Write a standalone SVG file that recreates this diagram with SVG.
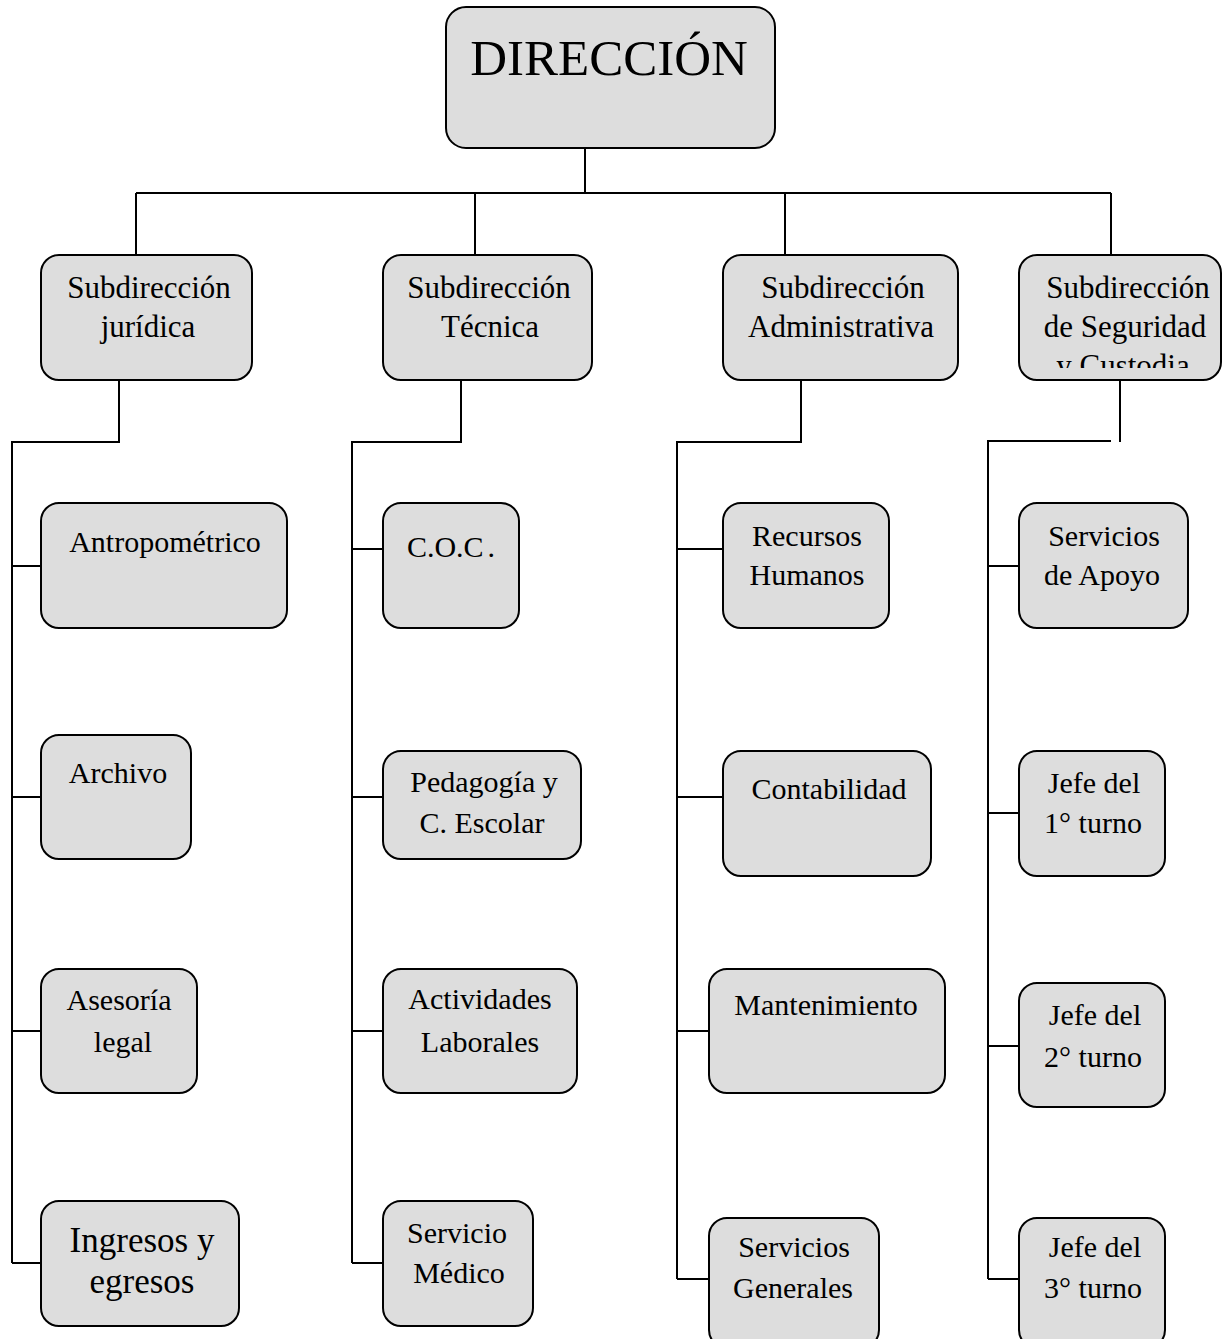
<svg xmlns="http://www.w3.org/2000/svg" width="1222" height="1339" viewBox="0 0 1222 1339">
<style>
.box{fill:#dddddd;stroke:#000;stroke-width:2}
.ln{fill:none;stroke:#000;stroke-width:2}
text{font-family:"Liberation Serif","Times New Roman",serif;fill:#000;text-anchor:middle}
.t1{font-size:51px}
.t2{font-size:31px}
.t3{font-size:30px}
.t4{font-size:35px}
</style>
<defs>
<clipPath id="clipSeg"><rect x="1019" y="255" width="203" height="113"/></clipPath>
</defs>
<rect width="1222" height="1339" fill="#fff"/>
<g id="connectors">
<path class="ln" d="M585 148V193M136 193H1111M136 193V255M475 193V255M785 193V255M1111 193V255"/>
<path class="ln" d="M119 380V442H12V1263M12 566H41M12 797H41M12 1031H41M12 1263H41"/>
<path class="ln" d="M461 380V442H352V1263M352 549H383M352 797H383M352 1031H383M352 1263H383"/>
<path class="ln" d="M801 380V442H677V1279M677 549H723M677 797H723M677 1031H709M677 1279H709"/>
<path class="ln" d="M1120 380V442M1111 441H988V1279M988 566H1019M988 813H1019M988 1046H1019M988 1279H1019"/>
</g>
<g id="direccion"><rect class="box" x="446" y="7" width="329" height="141" rx="20"/><text class="t1" x="609" y="75">DIRECCIÓN</text></g>
<g id="sub-juridica"><rect class="box" x="41" y="255" width="211" height="125" rx="18"/><text class="t2" x="149" y="298">Subdirección</text><text class="t2" x="148" y="337">jurídica</text></g>
<g id="sub-tecnica"><rect class="box" x="383" y="255" width="209" height="125" rx="18"/><text class="t2" x="489" y="298">Subdirección</text><text class="t2" x="490" y="337">Técnica</text></g>
<g id="sub-admin"><rect class="box" x="723" y="255" width="235" height="125" rx="18"/><text class="t2" x="843" y="298">Subdirección</text><text class="t2" x="841" y="337">Administrativa</text></g>
<g id="sub-seguridad"><rect class="box" x="1019" y="255" width="202" height="125" rx="18"/><g clip-path="url(#clipSeg)"><text class="t2" x="1128" y="298">Subdirección</text><text class="t2" x="1125" y="337">de Seguridad</text><text class="t2" x="1123" y="376">y Custodia</text></g></g>
<g id="antropometrico"><rect class="box" x="41" y="503" width="246" height="125" rx="18"/><text class="t3" x="165" y="552">Antropométrico</text></g>
<g id="archivo"><rect class="box" x="41" y="735" width="150" height="124" rx="18"/><text class="t3" x="118" y="783">Archivo</text></g>
<g id="asesoria"><rect class="box" x="41" y="969" width="156" height="124" rx="18"/><text class="t3" x="119" y="1010">Asesoría</text><text class="t3" x="123" y="1052">legal</text></g>
<g id="ingresos"><rect class="box" x="41" y="1201" width="198" height="125" rx="18"/><text class="t4" x="142" y="1252">Ingresos y</text><text class="t4" x="142" y="1293">egresos</text></g>
<g id="coc"><rect class="box" x="383" y="503" width="136" height="125" rx="18"/><text class="t3" x="451" y="557">C.O.C<tspan dx="4">.</tspan></text></g>
<g id="pedagogia"><rect class="box" x="383" y="751" width="198" height="108" rx="18"/><text class="t3" x="484" y="792">Pedagogía y</text><text class="t3" x="482" y="833">C. Escolar</text></g>
<g id="actividades"><rect class="box" x="383" y="969" width="194" height="124" rx="18"/><text class="t3" x="480" y="1009">Actividades</text><text class="t3" x="480" y="1052">Laborales</text></g>
<g id="servicio-medico"><rect class="box" x="383" y="1201" width="150" height="125" rx="18"/><text class="t3" x="457" y="1243">Servicio</text><text class="t3" x="459" y="1283">Médico</text></g>
<g id="recursos"><rect class="box" x="723" y="503" width="166" height="125" rx="18"/><text class="t3" x="807" y="546">Recursos</text><text class="t3" x="807" y="585">Humanos</text></g>
<g id="contabilidad"><rect class="box" x="723" y="751" width="208" height="125" rx="18"/><text class="t3" x="829" y="799">Contabilidad</text></g>
<g id="mantenimiento"><rect class="box" x="709" y="969" width="236" height="124" rx="18"/><text class="t3" x="826" y="1015">Mantenimiento</text></g>
<g id="servicios-generales"><rect class="box" x="709" y="1218" width="170" height="130" rx="18"/><text class="t3" x="794" y="1257">Servicios</text><text class="t3" x="793" y="1298">Generales</text></g>
<g id="servicios-apoyo"><rect class="box" x="1019" y="503" width="169" height="125" rx="18"/><text class="t3" x="1104" y="546">Servicios</text><text class="t3" x="1102" y="585">de Apoyo</text></g>
<g id="jefe1"><rect class="box" x="1019" y="751" width="146" height="125" rx="18"/><text class="t3" x="1094" y="793">Jefe del</text><text class="t3" x="1093" y="833">1° turno</text></g>
<g id="jefe2"><rect class="box" x="1019" y="983" width="146" height="124" rx="18"/><text class="t3" x="1095" y="1025">Jefe del</text><text class="t3" x="1093" y="1067">2° turno</text></g>
<g id="jefe3"><rect class="box" x="1019" y="1218" width="146" height="130" rx="18"/><text class="t3" x="1095" y="1257">Jefe del</text><text class="t3" x="1093" y="1298">3° turno</text></g>
</svg>
